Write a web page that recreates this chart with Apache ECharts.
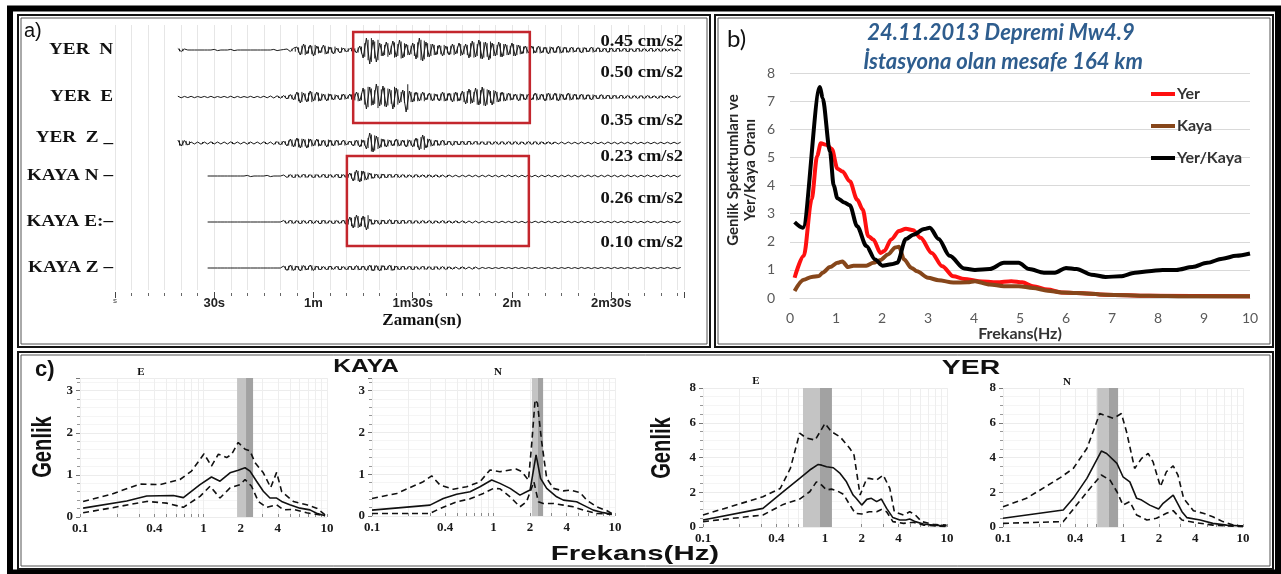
<!DOCTYPE html>
<html><head><meta charset="utf-8">
<script src="https://cdn.jsdelivr.net/npm/echarts@6/dist/echarts.min.js"></script>
<style>html,body{margin:0;padding:0;background:#fff;}#c{width:1281px;height:574px;}</style>
</head><body><div id="c"></div>
<script>
// ---------------- DATA ----------------
// Panel a: seismograms (1-s samples, visual amplitude estimates)
const TIME_TICKS = [0, 30, 60, 90, 120, 150];
const TIME_TICK_LABELS = ['s', '30s', '1m', '1m30s', '2m', '2m30s'];
const TRACE_NAMES = ['YER  N', 'YER  E', 'YER  Z _', 'KAYA N \u2013', 'KAYA E:\u2013', 'KAYA Z \u2013'];
const TRACE_PEAKS = ['0.45 cm/s2', '0.50 cm/s2', '0.35 cm/s2', '0.23 cm/s2', '0.26 cm/s2', '0.10 cm/s2'];
const TRACE_START = [19, 19, 19, 28, 28, 28];
const YER_N = [1.5,-1.5,1,0,0,0,0,0,0,0,0,0.6,-0.6,0,0,0,0.6,-0.6,0,0,0,0,0,0,0,0,0,0,0,0.6,-0.6,0,0.5,
1,-1.5,2, 3,-5,6,-4,5,-6, 4,-3,5,-4,3,-4, 2,-3,2,-2,1.5, 2,-3,4, -8,12,-14,10,-12,7,
-6,8,-5,9,-7, 10,-8,6,-5,7, -9,12,-11,8,-7, 6,-5,5,-6,4, -5,6,-4,7,-5, 6,-8,9,-7,10,
-9,8,-10,7,-6, 8,-7,6,-5,7, -6,5,-4,4,-3, 4,-3,4,-3,3, -4,3,-3,4,-3, 3,-2.5,3,-2,2.5,
-3,2.5,-2,3,-2, 2.5,-2,2,-2.5,2, -2,2,-1.5,2,-2, 1.5,-2,2,-1.5,1.5, -1.5,2,-1.5,1.5,-1.5,
1.5,-1.2,1.5,-1.2,1,-1];
const YER_E = [0.8,-0.8,0.6,-0.6,0.7,-0.7,0.5,-0.5,0.6,-0.6,0.7,-0.7,0.5,-0.5,0.6,-0.6,0.8,-0.8,0.6,-0.6,0.5,-0.5,0.7,-0.7,0.6,-0.6,0.8,-0.8,1,-1,1.2,-1.2,
1.5,-2,2.5,-3, 5,-6,4,-5,6,-4, 5,-4,3,-4,3,-3, 2,-3,3,-2,3, -4,5,-4, 9,-12,10,-8,13,-9,
11,-10,8,-12,9, -6,7,-15,6,-5, 5,-4,5,-3,4, -4,3,-4,5,-4, 4,-5,5,-4,6, -7,8,-6,9,-8,
10,-9,7,-8,6, -5,5,-4,4,-3, 3,-4,3,-3,3, -3,4,-3,3,-4, 4,-3,4,-4,3, -3,4,-3,3,-2.5,
3,-2.5,2.5,-3,2, -2,2.5,-2,2,-2, 2,-1.5,2,-1.5,1.5, -1.5,1.5,-1.5,1.5,-1.5, 1.5,-1.2,1.2,-1.5,1.2,
-1.2,1.2,-1,1,-1,1];
const YER_Z = [3,-3,2.5,-2,
1,-1,1,-1.2,1,-1,1.2,-1,1,-1,1,-1,1.2,-1,1,-1,1,-1.2,1,-1,1,-1,1.2,-1,1,-1.5,1.5,-2,
2,-3,4,-4,5, -5,4,-5,4,-3, 4,-3,3,-4,3, -3,3,-2,3,-2, 2,-3,3,-4,3, -6,10,-9,7,-5,
4,-4,3,-3,4, -3,3,-4,3,-4, 5,-7,8,-5,4, -3,3,-2.5,3,-2, 2,-2.5,2,-2,2, -2,2,-1.5,2,-1.5,
1.5,-2,1.5,-1.5,1.5, -1.5,1.5,-1.5,1.5,-1.5, 1.5,-1.5,1.2,-1.5,1.5, -1.5,1.5,-1.5,1.2,-1.2, 1.2,-1.2,1,-1,1,
-1,1,-0.8,0.8,-1,1,-0.8,0.8,-1,1,-0.8,0.8,-1,1,-0.8,0.8,-1,1,-0.8,0.8,-1,1,-0.8,0.8,-0.8,0.8,-0.8,0.8,-0.8,0.8,-0.8,0.8,-0.8,0.8,-0.8,0.8];
const KAYA_N = [0,0,0,0,0,0,0,0,0,0,0,0,0.6,-0.6,0,0,0,0,0.6,-0.6,0,0,0,
1,-1.5,1.5,-2,1.5,-1.5,2,-1.5,1.5,-2,1.5,-1.5,2,-2,1.5,-1.5,2,-2,1.5,-2,
3,-5,6,-6,5,-4,3, -2.5,2,-2.5,2,-2,2,-1.5,2,
-1.5,1.5,-1.5,1.2,-1.5,1.5,-1.2,1.2,-1.5,1.2,-1.2,1.2,-1.2,1,-1.2,
1,-0.8,0.8,-1,0.8,-0.8,1,-0.8,0.8,-1, 0.8,-0.8,1,-0.8,0.8,-1,0.8,-0.8,1,-0.8,
0.8,-1,0.8,-0.8,1,-0.8,0.8,-1,0.8,-0.8, 1,-0.8,0.8,-1,0.8,-0.8,1,-0.8,0.8,-1,
0.8,-0.8,1,-0.8,0.8,-1,0.8,-0.8,1,-0.8, 0.8,-1,0.8,-0.8,1,-0.8,0.8,-1,0.8,-0.8,
1,-0.8,0.8,-1,0.8,-0.8,1,-0.8,0.8,-1,0.8];
const KAYA_E = [0,0,0,0,0,0,0,0,0,0,0,0,0,0,0,0,0,0,0,0,0,0,0,
1.5,-1.5,2,-1.5,1.5,-2,1.5,-1.5,2,-1.5,1.5,-2,2,-1.5,1.5,-2,1.5,-1.5,2,
-3,5,-6,7,-5,6,-8,3,
-2.5,2,-2.5,2,-2,2.5,-2,2,-2,2,-1.5,2,-1.5,
1.5,-1.5,1.5,-1.2,1.5,-1.5,1.2,-1.2,1.5,-1.2,1.2,-1.2,1.2,-1,1.2,-1,1,-1,1,-1,
0.8,-0.7,0.7,-0.8,0.7,-0.7,0.8,-0.7,0.7,-0.8, 0.8,-0.7,0.7,-0.8,0.7,-0.7,0.8,-0.7,0.7,-0.8,
0.8,-0.7,0.7,-0.8,0.7,-0.7,0.8,-0.7,0.7,-0.8, 0.8,-0.7,0.7,-0.8,0.7,-0.7,0.8,-0.7,0.7,-0.8,
0.8,-0.7,0.7,-0.8,0.7,-0.7,0.8,-0.7,0.7,-0.8, 0.8,-0.7,0.7,-0.8,0.7,-0.7,0.8,-0.7,0.7,-0.8, 0.7];
const KAYA_Z = [0,0,0,0,0,0,0,0,0,0,0,0,0,0,0,0,0,0,0,0,0,0,0,
2,-2.5,3,-2.5,2,-3,2.5,-2,3,-2.5,
2,-2,1.5,-2,2,-1.5,2,-2,1.5,-2,2,-2,2.5,-2,2,
-2.5,3,-3,2.5,-3,2.5,-2,3,-2.5,2,
-2,2,-1.5,2,-2,1.5,-1.5,2,-1.5,1.5,-2,1.5,-1.5,1.5,-1.5,
1.2,-1.2,1,-1.2,1.2,-1,1,-1.2,1,-1,
0.6,-0.5,0.5,-0.6,0.5,-0.5,0.6,-0.5,0.5,-0.6, 0.6,-0.5,0.5,-0.6,0.5,-0.5,0.6,-0.5,0.5,-0.6,
0.6,-0.5,0.5,-0.6,0.5,-0.5,0.6,-0.5,0.5,-0.6, 0.6,-0.5,0.5,-0.6,0.5,-0.5,0.6,-0.5,0.5,-0.6,
0.6,-0.5,0.5,-0.6,0.5,-0.5,0.6,-0.5,0.5,-0.6, 0.6,-0.5,0.5,-0.6,0.5,-0.5,0.6,-0.5,0.5,-0.6, 0.5];
const TRACES = [YER_N, YER_E, YER_Z, KAYA_N, KAYA_E, KAYA_Z];
// red windows [tStart, tEnd] (s)
const WIN_YER = [72, 125.4];
const WIN_KAYA = [70.1, 125.1];

// Panel b: spectra [freq Hz, amplitude]
const SPEC_NAMES = ['Yer', 'Kaya', 'Yer/Kaya'];
const SPEC_YER = [[0.1,0.72],[0.3,1.5],[0.47,3.5],[0.59,5.05],[0.67,5.5],[0.79,5.45],[0.91,5.3],[1.03,4.6],[1.14,4.5],[1.3,4.15],[1.46,3.5],[1.58,3.15],[1.7,2.2],[1.81,2.08],[1.97,1.6],[2.05,1.67],[2.2,2.08],[2.37,2.38],[2.52,2.46],[2.68,2.41],[2.84,2.14],[3.08,1.6],[3.31,1.13],[3.55,0.77],[3.79,0.68],[4.1,0.6],[4.5,0.56],[4.81,0.6],[5.05,0.56],[5.28,0.42],[5.6,0.3],[5.9,0.2],[6.23,0.18],[6.86,0.12],[7.8,0.08],[10,0.06]];
const SPEC_KAYA = [[0.1,0.25],[0.3,0.65],[0.47,0.75],[0.63,0.78],[0.71,0.9],[0.87,1.1],[1.03,1.25],[1.14,1.3],[1.26,1.1],[1.38,1.15],[1.5,1.15],[1.66,1.15],[1.81,1.25],[1.97,1.35],[2.13,1.55],[2.29,1.8],[2.37,1.82],[2.48,1.37],[2.64,1.07],[2.76,0.95],[3.0,0.72],[3.23,0.63],[3.55,0.55],[3.86,0.56],[4.02,0.6],[4.34,0.48],[4.65,0.42],[4.97,0.42],[5.28,0.36],[5.6,0.26],[5.9,0.2],[6.23,0.18],[6.86,0.12],[7.8,0.08],[8.6,0.06],[10,0.06]];
const SPEC_RATIO = [[0.1,2.7],[0.28,2.5],[0.65,7.5],[0.71,7.1],[0.87,5.2],[0.95,4.0],[1.03,3.55],[1.18,3.4],[1.3,3.3],[1.46,2.55],[1.66,1.85],[1.85,1.37],[2.01,1.15],[2.2,1.2],[2.33,1.25],[2.52,2.1],[2.68,2.25],[2.92,2.45],[3.04,2.5],[3.23,2.1],[3.47,1.5],[3.79,1.05],[4.02,1.0],[4.34,1.03],[4.65,1.25],[4.97,1.25],[5.2,1.03],[5.52,0.9],[5.76,0.9],[6.0,1.07],[6.23,1.03],[6.55,0.83],[6.86,0.75],[7.18,0.77],[7.5,0.9],[7.8,0.95],[8.1,1.0],[8.4,1.0],[8.75,1.1],[9.07,1.25],[9.4,1.4],[9.7,1.5],[10,1.58]];

// Panel c: mean and +/- sigma spectra [freq, amplitude]
const FREQ_LABELS = [0.1, 0.4, 1, 2, 4, 10];
const FREQ_MINOR = [0.1,0.2,0.3,0.4,0.5,0.6,0.7,0.8,0.9,1,2,3,4,5,6,7,8,9,10];
const KE_MEAN = [[0.106,0.21],[0.239,0.38],[0.347,0.50],[0.57,0.51],[0.687,0.46],[0.937,0.77],[1.16,0.95],[1.36,0.85],[1.64,1.05],[1.91,1.11],[2.17,1.17],[2.38,1.09],[2.69,0.85],[3.05,0.61],[3.45,0.45],[3.91,0.45],[4.29,0.37],[5.0,0.29],[6.04,0.21],[7.28,0.17],[8.24,0.09],[9.64,0.03]];
const KE_UP = [[0.106,0.37],[0.175,0.53],[0.306,0.78],[0.444,0.77],[0.645,0.89],[0.80,1.09],[1.01,1.50],[1.16,1.21],[1.32,1.49],[1.54,1.41],[1.69,1.49],[1.91,1.77],[2.17,1.61],[2.38,1.57],[2.61,1.29],[3.05,1.05],[3.5,0.7],[3.91,1.06],[4.3,0.6],[5.34,0.37],[6.84,0.29],[8.24,0.21],[9.64,0.05]];
const KE_LO = [[0.106,0.10],[0.175,0.21],[0.347,0.37],[0.503,0.33],[0.687,0.23],[0.937,0.49],[1.13,0.73],[1.36,0.45],[1.64,0.69],[1.98,0.77],[2.17,0.89],[2.45,0.73],[2.78,0.37],[3.24,0.23],[3.91,0.29],[4.43,0.17],[5.34,0.18],[6.84,0.10],[9.64,0.03]];
const KN_MEAN = [[0.1,0.14],[0.30,0.26],[0.386,0.42],[0.497,0.52],[0.641,0.58],[0.774,0.70],[0.966,0.86],[1.13,0.78],[1.37,0.66],[1.65,0.50],[1.87,0.58],[2.0,0.62],[2.24,1.46],[2.44,0.90],[2.74,0.66],[3.31,0.46],[3.76,0.38],[4.83,0.34],[5.48,0.26],[6.63,0.14],[8.02,0.08],[9.4,0.04]];
const KN_UP = [[0.1,0.42],[0.16,0.54],[0.264,0.82],[0.31,0.96],[0.363,0.74],[0.467,0.64],[0.601,0.70],[0.774,0.82],[0.936,1.10],[1.13,1.06],[1.37,1.10],[1.55,1.12],[1.71,1.06],[1.94,0.86],[2.06,1.70],[2.2,2.78],[2.3,2.70],[2.49,1.78],[2.74,0.90],[3.11,0.66],[3.76,0.60],[4.26,0.62],[5.15,0.56],[5.85,0.38],[7.06,0.22],[8.53,0.13],[9.4,0.06]];
const KN_LO = [[0.1,0.06],[0.30,0.06],[0.363,0.18],[0.497,0.34],[0.641,0.41],[0.824,0.54],[1.0,0.66],[1.13,0.65],[1.37,0.46],[1.65,0.22],[1.87,0.34],[2.15,0.82],[2.34,0.34],[2.57,0.30],[3.11,0.30],[3.76,0.26],[4.54,0.22],[5.48,0.14],[7.06,0.06],[9.4,0.04]];
const YE_MEAN = [[0.1,0.4],[0.31,1.07],[0.455,2.03],[0.62,2.8],[0.75,3.28],[0.88,3.6],[0.94,3.56],[1.03,3.47],[1.17,3.41],[1.33,3.08],[1.5,2.6],[1.7,1.84],[1.8,1.65],[2.0,1.26],[2.2,1.59],[2.4,1.65],[2.65,1.46],[2.9,1.61],[3.2,1.07],[3.6,0.54],[4.1,0.4],[4.6,0.4],[4.95,0.46],[5.5,0.31],[6.4,0.17],[7.7,0.11],[9.9,0.06]];
const YE_UP = [[0.1,0.69],[0.31,1.74],[0.43,2.22],[0.52,3.37],[0.62,5.4],[0.7,5.13],[0.83,5.0],[1.0,5.96],[1.13,5.48],[1.33,5.19],[1.6,4.52],[1.73,4.14],[1.94,1.84],[2.2,2.8],[2.3,2.8],[2.65,2.7],[3.0,2.99],[3.4,2.22],[3.7,0.88],[4.4,0.69],[4.95,0.88],[5.5,0.69],[6.2,0.31],[7.7,0.15],[9.9,0.11]];
const YE_LO = [[0.1,0.31],[0.31,0.69],[0.455,1.3],[0.62,1.61],[0.75,2.03],[0.85,2.6],[0.94,2.41],[1.03,2.13],[1.13,2.18],[1.25,2.09],[1.42,1.88],[1.6,1.26],[1.77,0.79],[2.0,0.75],[2.3,0.88],[2.65,0.88],[2.9,1.01],[3.2,0.88],[3.6,0.31],[4.4,0.21],[5.3,0.27],[6.4,0.11],[9.9,0.02]];
const YN_MEAN = [[0.1,0.5],[0.318,0.98],[0.385,1.65],[0.5,2.8],[0.66,4.37],[0.73,4.23],[0.89,3.66],[1.0,2.89],[1.14,2.6],[1.3,1.65],[1.43,1.55],[1.67,1.26],[1.98,1.03],[2.16,1.36],[2.62,1.84],[3.1,0.88],[3.4,0.54],[4.4,0.4],[5.6,0.21],[7.3,0.11],[10,0.06]];
const YN_UP = [[0.1,1.17],[0.157,1.65],[0.3,2.84],[0.385,3.37],[0.5,4.52],[0.64,6.53],[0.83,6.25],[0.97,6.53],[1.07,5.48],[1.25,3.37],[1.43,3.95],[1.62,4.23],[1.78,3.75],[2.05,2.32],[2.3,3.18],[2.62,3.52],[2.87,2.99],[3.2,1.65],[3.86,0.94],[4.66,0.79],[5.6,0.59],[6.8,0.31],[8.3,0.11],[10,0.06]];
const YN_LO = [[0.1,0.21],[0.318,0.31],[0.41,1.26],[0.53,2.22],[0.66,2.99],[0.78,2.7],[0.89,2.03],[1.0,1.26],[1.14,1.46],[1.3,0.69],[1.58,0.4],[1.9,0.5],[2.3,0.79],[2.62,0.94],[3.1,0.4],[3.86,0.27],[5.6,0.11],[10,0.02]];
// selected frequency bands [light start, split, dark end]
const BAND_KE = [1.87, 2.21, 2.52];
const BAND_KN = [2.07, 2.32, 2.56];
const BAND_YE = [0.66, 0.91, 1.14];
const BAND_YN = [0.61, 0.76, 0.91];
const C_TITLES = ['E', 'N', 'E', 'N'];

// ---------------- LAYOUT / STYLE ----------------
const SERIF = "'Liberation Serif','Times New Roman',serif";
const SANS = "'Liberation Sans',Arial,sans-serif";
const CAL = "Lato,'Open Sans',sans-serif";
const TRACE_ROW = [25, 72, 118, 151, 197, 243]; // baseline on position axis (0..265)
const NAME_Y = [50, 97, 138, 176, 222, 268];
const PEAK_Y = [42, 73, 121, 157, 199, 243];

const chart = echarts.init(document.getElementById('c'), null, {renderer: 'canvas'});

const grids = [
  {left: 115, top: 25, width: 569, height: 265},
  {left: 790, top: 73, width: 460, height: 225},
  {left: 80, top: 378, width: 247, height: 139},
  {left: 372, top: 378, width: 243, height: 138},
  {left: 703, top: 388, width: 244, height: 139},
  {left: 1003, top: 388, width: 240, height: 139}
].map(g => Object.assign({outerBoundsMode: 'none', containLabel: false}, g));

const xAxes = [
  {gridIndex: 0, type: 'value', min: 0, max: 172, interval: 5, offset: 3, position: 'bottom',
   axisLine: {show: false, onZero: false}, axisTick: {show: true, length: 3, lineStyle: {color: '#666'}},
   axisLabel: {show: false}, splitLine: {show: true, lineStyle: {color: '#e6e6e6', width: 1}}},
  {gridIndex: 0, type: 'value', min: 0, max: 172, interval: 30, offset: 2, position: 'bottom',
   axisLine: {show: false, onZero: false}, axisTick: {show: true, length: 6, lineStyle: {color: '#444'}},
   splitLine: {show: false},
   axisLabel: {show: true, margin: 5, color: '#222', fontFamily: SANS, fontWeight: 'bold', fontSize: 13,
     formatter: v => { const i = TIME_TICKS.indexOf(v); if (i < 0) return ''; return i === 0 ? '{s|' + TIME_TICK_LABELS[0] + '}' : TIME_TICK_LABELS[i]; },
     rich: {s: {fontSize: 8, fontWeight: 'normal', color: '#444', fontFamily: SANS}}}},
  {gridIndex: 1, type: 'value', min: 0, max: 10, interval: 1,
   axisLine: {show: true, lineStyle: {color: '#d9d9d9'}}, axisTick: {show: false},
   splitLine: {show: false},
   axisLabel: {color: '#595959', fontSize: 14, fontFamily: CAL, margin: 13},
   name: 'Frekans(Hz)', nameLocation: 'middle', nameGap: 28,
   nameTextStyle: {fontFamily: CAL, fontWeight: 'bold', fontSize: 16, color: '#333'}}
];
const yAxes = [
  {gridIndex: 0, type: 'value', min: 0, max: 265, inverse: true, show: false},
  {gridIndex: 1, type: 'value', min: 0, max: 8, interval: 1,
   axisLine: {show: false}, axisTick: {show: false},
   splitLine: {show: true, lineStyle: {color: '#d9d9d9'}},
   axisLabel: {color: '#595959', fontSize: 14, fontFamily: CAL, margin: 15}}
];
const cMax = [3.3, 3.3, 8, 8];
const cInt = [1, 1, 2, 2];
const cMinor = [5, 5, 4, 4];
for (let k = 0; k < 4; k++) {
  xAxes.push({gridIndex: 2 + k, type: 'log', logBase: 10, min: 0.1, max: 10,
    axisLine: {show: false},
    axisTick: {show: true, inside: true, length: 3, customValues: FREQ_MINOR, lineStyle: {color: '#8a8a8a'}},
    axisLabel: {show: true, customValues: FREQ_LABELS, formatter: v => String(v), margin: 5,
      fontFamily: SERIF, fontWeight: 'bold', fontSize: 13, color: '#1a1a1a'},
    splitLine: {show: true, lineStyle: {color: '#eeeeee'}}});
  yAxes.push({gridIndex: 2 + k, type: 'value', min: 0, max: cMax[k], interval: cInt[k],
    axisLine: {show: false},
    axisTick: {show: true, length: 4, lineStyle: {color: '#777'}},
    minorTick: {show: true, splitNumber: cMinor[k], length: 3, lineStyle: {color: '#999'}},
    splitLine: {show: true, lineStyle: {color: '#ececec'}},
    minorSplitLine: {show: true, lineStyle: {color: '#f5f5f5'}},
    axisLabel: {margin: 7, fontFamily: SERIF, fontWeight: 'bold', fontSize: 13, color: '#1a1a1a',
      formatter: v => (Math.abs(v - Math.round(v)) < 1e-6 ? String(Math.round(v)) : '')}});
}

const series = [];
// seismograms: wiggle line + per-sample vertical stroke of the same amplitude
TRACES.forEach((amps, r) => {
  const pts = amps.map((a, i) => [TRACE_START[r] + i, TRACE_ROW[r] - a]);
  const s = {
    type: 'line', xAxisIndex: 0, yAxisIndex: 0, symbol: 'none', silent: true,
    lineStyle: {color: '#1b1b1b', width: 1}, z: 3, data: pts
  };
  if (r === 0) {
    s.markArea = {silent: true, z: 4,
      itemStyle: {color: 'rgba(0,0,0,0)', borderColor: '#c3262d', borderWidth: 2.5},
      data: [
        [{xAxis: WIN_YER[0], yAxis: 7}, {xAxis: WIN_YER[1], yAxis: 98}],
        [{xAxis: WIN_KAYA[0], yAxis: 131}, {xAxis: WIN_KAYA[1], yAxis: 221}]
      ]};
  }
  series.push(s);
  series.push({
    type: 'custom', xAxisIndex: 0, yAxisIndex: 0, silent: true, z: 3,
    data: amps.map((a, i) => [TRACE_START[r] + i + 0.5, TRACE_ROW[r], Math.abs(a) * 0.85]),
    renderItem: (params, api) => {
      const t = api.value(0), row = api.value(1), a = api.value(2);
      if (a < 0.9) return null;
      const p1 = api.coord([t, row - a]), p2 = api.coord([t, row + a]);
      return {type: 'line', shape: {x1: p1[0], y1: p1[1], x2: p2[0], y2: p2[1]},
        style: {stroke: '#1e1e1e', lineWidth: 1}};
    }
  });
});
// panel b spectra
const specColors = ['#ff1010', '#86461a', '#000000'];
[SPEC_YER, SPEC_KAYA, SPEC_RATIO].forEach((d, i) => {
  series.push({type: 'line', name: SPEC_NAMES[i], xAxisIndex: 2, yAxisIndex: 1, data: d,
    symbol: 'none', smooth: 0.3, smoothMonotone: 'x',
    lineStyle: {color: specColors[i], width: 4}, itemStyle: {color: specColors[i]}});
});
// panel c
const cSets = [[KE_MEAN, KE_UP, KE_LO, BAND_KE], [KN_MEAN, KN_UP, KN_LO, BAND_KN],
               [YE_MEAN, YE_UP, YE_LO, BAND_YE], [YN_MEAN, YN_UP, YN_LO, BAND_YN]];
cSets.forEach((set, k) => {
  const xi = 3 + k, yi = 2 + k;
  const band = set[3];
  series.push({type: 'line', xAxisIndex: xi, yAxisIndex: yi, data: set[0], symbol: 'none', silent: true,
    lineStyle: {color: '#111', width: 1.6}, z: 4,
    markArea: {silent: true, data: [
      [{xAxis: band[0], itemStyle: {color: '#c4c4c4'}}, {xAxis: band[1]}],
      [{xAxis: band[1], itemStyle: {color: '#a2a2a2'}}, {xAxis: band[2]}]
    ]}});
  series.push({type: 'line', xAxisIndex: xi, yAxisIndex: yi, data: set[1], symbol: 'none', silent: true,
    lineStyle: {color: '#111', width: 1.6, type: [6, 4]}, z: 4});
  series.push({type: 'line', xAxisIndex: xi, yAxisIndex: yi, data: set[2], symbol: 'none', silent: true,
    lineStyle: {color: '#111', width: 1.6, type: [6, 4]}, z: 4});
});

// ---------------- GRAPHIC (frames & free text) ----------------
function frame(x, y, w, h) {
  return [
    {type: 'rect', shape: {x: x, y: y, width: w, height: h}, style: {fill: null, stroke: '#151515', lineWidth: 2}, silent: true, z: 10},
    {type: 'rect', shape: {x: x + 3, y: y + 3, width: w - 6, height: h - 6}, style: {fill: null, stroke: '#555', lineWidth: 1}, silent: true, z: 10}
  ];
}
function txt(x, y, text, font, opts) {
  return Object.assign({type: 'text', x: x, y: y, silent: true, z: 20,
    style: Object.assign({text: text, font: font, fill: '#111', align: 'left', verticalAlign: 'middle'}, (opts && opts.style) || {})},
    opts && opts.el ? opts.el : {});
}
const graphics = [
  {type: 'rect', shape: {x: 10, y: 8.5, width: 1268, height: 564}, style: {fill: null, stroke: '#000', lineWidth: 6}, silent: true, z: 10},
  ...frame(18, 15, 692, 332),
  ...frame(715, 15, 558, 332),
  ...frame(18, 352, 1255, 217),
  txt(24, 31, 'a)', 'normal 20px ' + SANS),
  txt(422, 321, 'Zaman(sn)', 'bold 17px ' + SERIF, {style: {align: 'center'}}),
  txt(727, 39, 'b)', 'normal 24px ' + CAL),
  txt(1001, 33, '24.11.2013 Depremi Mw4.9', 'italic bold 22px ' + CAL, {style: {align: 'center', fill: '#2e5d8e'}}),
  txt(1003, 62, 'İstasyona olan mesafe 164 km', 'italic bold 22px ' + CAL, {style: {align: 'center', fill: '#2e5d8e'}}),
  txt(733, 170, 'Genlik Spektrumları ve', 'bold 15px ' + CAL, {style: {align: 'center', fill: '#262626'}, el: {rotation: Math.PI / 2}}),
  txt(750, 170, 'Yer/Kaya Oranı', 'bold 15px ' + CAL, {style: {align: 'center', fill: '#262626'}, el: {rotation: Math.PI / 2}}),
  txt(35, 370, 'c)', 'bold 22px ' + SANS),
  txt(366, 367, 'KAYA', 'bold 19px ' + SANS, {style: {align: 'center'}, el: {scaleX: 1.3}}),
  txt(971, 368, 'YER', 'bold 21px ' + SANS, {style: {align: 'center'}, el: {scaleX: 1.35}}),
  txt(635, 554, 'Frekans(Hz)', 'bold 21px ' + SANS, {style: {align: 'center'}, el: {scaleX: 1.4}}),
  txt(43, 447, 'Genlik', 'bold 28px ' + SANS, {style: {align: 'center'}, el: {rotation: Math.PI / 2, scaleX: 0.72}}),
  txt(662, 448, 'Genlik', 'bold 28px ' + SANS, {style: {align: 'center'}, el: {rotation: Math.PI / 2, scaleX: 0.72}})
];
const cTitlePos = [[141, 372], [498, 372], [756, 381], [1067, 382]];
C_TITLES.forEach((t, i) => graphics.push(txt(cTitlePos[i][0], cTitlePos[i][1], t, 'bold 11px ' + SERIF, {style: {align: 'center'}})));
TRACE_NAMES.forEach((n, i) => graphics.push(txt(113, NAME_Y[i], n, 'bold 16px ' + SERIF, {style: {align: 'right'}, el: {scaleX: 1.2}})));
TRACE_PEAKS.forEach((n, i) => graphics.push(txt(683, PEAK_Y[i], n, 'bold 16px ' + SERIF, {style: {align: 'right'}, el: {scaleX: 1.16}})));

chart.setOption({
  animation: false,
  backgroundColor: '#ffffff',
  grid: grids,
  xAxis: xAxes,
  yAxis: yAxes,
  legend: {data: SPEC_NAMES, orient: 'vertical', left: 1146, top: 81, itemWidth: 24, itemHeight: 4,
    itemGap: 16, icon: 'rect', selectedMode: false,
    textStyle: {fontFamily: CAL, fontWeight: 'bold', fontSize: 16, color: '#333', padding: [0, 0, 0, -3]}},
  series: series,
  graphic: {elements: graphics}
});
</script></body></html>
